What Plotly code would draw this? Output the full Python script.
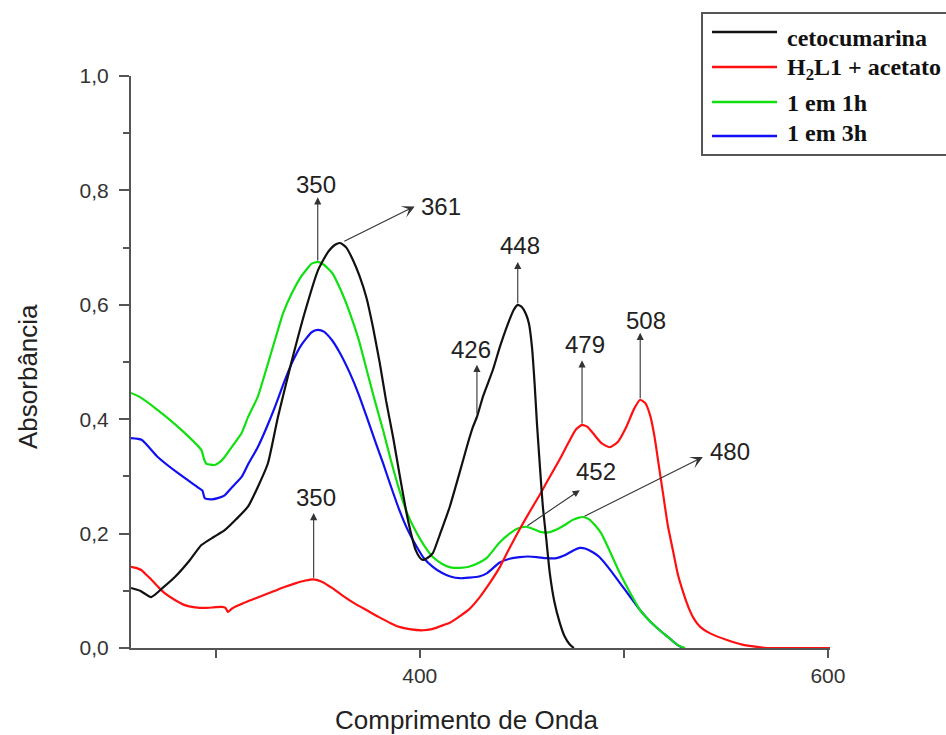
import plotly.graph_objects as go

# Absorption spectra (wavelength in nm, absorbance)
ceto_x = [258.5, 263, 268.4, 274, 280, 287, 293, 299, 304.4, 310, 315.8, 320.7, 325.6, 330.5,
          337, 343.6, 350.2, 355, 358.5, 361, 364, 367.3, 370.5, 373.9, 377, 380.4, 383.5, 386.9,
          390, 393.5, 396, 398, 400, 401.5, 403.5, 406.4, 410, 414.7, 419, 423, 426, 428,
          431, 435.8, 439.2, 443, 446, 448, 450, 452, 453.5, 455, 456.3, 457.4, 459, 460.3, 462,
          463.7, 466, 468.6, 471, 473.5, 475.5]
ceto_y = [0.105, 0.100, 0.089, 0.105, 0.124, 0.152, 0.180, 0.194, 0.206, 0.225, 0.247, 0.282,
          0.323, 0.404, 0.498, 0.586, 0.661, 0.692, 0.705, 0.708, 0.700, 0.678, 0.650, 0.612,
          0.562, 0.498, 0.432, 0.369, 0.305, 0.236, 0.196, 0.171, 0.158, 0.154, 0.157, 0.166,
          0.200, 0.247, 0.300, 0.351, 0.386, 0.404, 0.440, 0.486, 0.526, 0.565, 0.591, 0.600,
          0.596, 0.584, 0.567, 0.525, 0.460, 0.393, 0.310, 0.247, 0.190, 0.131, 0.080, 0.044,
          0.020, 0.006, 0.0]

acet_x = [258.5, 261, 263.7, 266, 268.6, 272, 275, 280, 284.8, 290, 294.6, 299, 303, 304.8,
          306, 308, 314, 319, 324, 329, 334, 339, 344, 348, 352, 357, 362, 368, 374, 380, 386,
          390, 395, 401.5, 406, 410, 414.7, 419, 424, 429.4, 434, 439, 444, 449, 454, 458.8,
          463, 468.6, 473, 476.5, 479.5, 482, 485, 489, 493, 497, 501, 505, 508, 510.5, 513,
          515, 517, 519.4, 521.5, 524.3, 526.5, 529.2, 532, 534.5, 537.4, 542, 550.5, 558,
          565.2, 570, 585, 601]
acet_y = [0.142, 0.140, 0.136, 0.128, 0.119, 0.106, 0.096, 0.084, 0.075, 0.071, 0.070, 0.071,
          0.072, 0.070, 0.063, 0.069, 0.079, 0.086, 0.093, 0.100, 0.107, 0.113, 0.118, 0.120,
          0.116, 0.105, 0.092, 0.078, 0.066, 0.054, 0.043, 0.037, 0.033, 0.031, 0.033, 0.038,
          0.044, 0.054, 0.067, 0.089, 0.112, 0.140, 0.175, 0.208, 0.239, 0.268, 0.295, 0.330,
          0.360, 0.382, 0.390, 0.387, 0.375, 0.358, 0.351, 0.360, 0.385, 0.418, 0.434, 0.428,
          0.405, 0.370, 0.322, 0.265, 0.215, 0.166, 0.128, 0.096, 0.068, 0.050, 0.037, 0.026,
          0.014, 0.006, 0.002, 0.0, 0.0, 0.0]

h1_x = [258.5, 262.7, 271.6, 283.3, 293, 294.3, 295.5, 299.5, 302, 304.4, 308, 312.7, 316,
        320.6, 325, 329, 333, 337.3, 342, 347, 350, 353, 357, 361, 365.7, 370, 374, 378, 382,
        386, 390, 394, 398.5, 402, 406.4, 411, 415, 419.6, 424, 429, 433, 439, 444, 448, 452,
        455, 459, 463, 467, 471, 475, 478, 480, 483, 486, 489, 493, 498, 503, 508, 513, 517.6,
        522, 526, 530]
h1_y = [0.446, 0.439, 0.416, 0.381, 0.346, 0.330, 0.322, 0.320, 0.325, 0.334, 0.352, 0.376,
        0.405, 0.439, 0.490, 0.538, 0.585, 0.620, 0.650, 0.672, 0.675, 0.670, 0.656, 0.628,
        0.586, 0.540, 0.486, 0.432, 0.381, 0.326, 0.276, 0.234, 0.201, 0.180, 0.159, 0.147,
        0.141, 0.140, 0.142, 0.149, 0.158, 0.184, 0.200, 0.209, 0.212, 0.209, 0.203, 0.202,
        0.207, 0.215, 0.224, 0.228, 0.229, 0.225, 0.214, 0.200, 0.170, 0.131, 0.097, 0.066,
        0.046, 0.031, 0.018, 0.006, 0.0]

h3_x = [258.5, 263.7, 271.6, 281.4, 291.2, 293.5, 294.6, 298, 301, 304.4, 308, 312.7, 316,
        320.6, 325, 329, 333, 337.3, 342, 347, 350, 353, 357, 361, 365.7, 370, 374, 378, 382,
        386, 390, 394, 398.5, 402, 406.4, 411, 415, 419.6, 424, 429, 433, 439, 444, 449, 453,
        457.4, 462, 467, 471, 475, 478.4, 481, 485, 488, 493, 498, 503, 508, 513, 517.6, 522,
        526, 529]
h3_y = [0.367, 0.364, 0.334, 0.306, 0.281, 0.275, 0.262, 0.260, 0.262, 0.267, 0.281, 0.299,
        0.322, 0.351, 0.386, 0.421, 0.460, 0.498, 0.530, 0.552, 0.556, 0.553, 0.538, 0.515,
        0.481, 0.444, 0.404, 0.363, 0.323, 0.281, 0.241, 0.207, 0.177, 0.157, 0.142, 0.131,
        0.125, 0.122, 0.123, 0.125, 0.131, 0.149, 0.156, 0.159, 0.160, 0.159, 0.157, 0.157,
        0.162, 0.170, 0.175, 0.174, 0.167, 0.159, 0.138, 0.114, 0.090, 0.066, 0.046, 0.031,
        0.018, 0.006, 0.0]

series_names = ["cetocumarina", "H<sub>2</sub>L1 + acetato", "1 em 1h", "1 em 3h"]
series_colors = ["#111111", "#ff1010", "#10e010", "#1010f0"]

# Peak markers: (label, curve x, curve y, arrow-head x, arrow-head y, label x, label y)
peaks = [
    ("350", 350, 0.675, 350, 0.788, 349, 0.810),
    ("361", 362.3, 0.710, 397.5, 0.772, 410.5, 0.772),
    ("448", 448, 0.600, 448, 0.675, 449, 0.703),
    ("426", 428, 0.407, 428, 0.495, 425, 0.522),
    ("479", 479.5, 0.390, 479.5, 0.503, 481, 0.530),
    ("508", 508, 0.434, 508, 0.551, 511, 0.572),
    ("350", 348, 0.120, 348, 0.236, 349, 0.263),
    ("452", 452, 0.212, 478.4, 0.276, 486.5, 0.308),
    ("480", 480, 0.229, 538.7, 0.334, 552, 0.343),
]
big_heads = {"361", "480"}

fig = go.Figure()

# draw order: blue, green, red, black (black on top)
for xs, ys, idx in [(h3_x, h3_y, 3), (h1_x, h1_y, 2), (acet_x, acet_y, 1), (ceto_x, ceto_y, 0)]:
    fig.add_trace(go.Scatter(
        x=xs, y=ys, mode="lines", name=series_names[idx], showlegend=False,
        line=dict(color=series_colors[idx], width=2.2, shape="spline", smoothing=0.5),
        hoverinfo="skip",
    ))

annotations = []
for label, tx, ty, hx, hy, lx, ly in peaks:
    big = label in big_heads
    annotations.append(dict(
        x=hx, y=hy, ax=tx, ay=ty, xref="x", yref="y", axref="x", ayref="y",
        text="", showarrow=True, arrowhead=2 if not big else 3,
        arrowsize=1.3 if not big else 1.9, arrowwidth=1.1, arrowcolor="#333333",
    ))
    annotations.append(dict(
        x=lx, y=ly, xref="x", yref="y", text=label, showarrow=False,
        xanchor="center", yanchor="middle",
        font=dict(family="Liberation Sans, Arial, sans-serif", size=24, color="#222222"),
    ))

# axis titles
annotations.append(dict(
    x=0.4807, y=-0.126, xref="paper", yref="paper", text="Comprimento de Onda",
    showarrow=False, xanchor="center", yanchor="middle",
    font=dict(family="Liberation Sans, Arial, sans-serif", size=26, color="#222222"),
))
annotations.append(dict(
    x=-0.1474, y=0.4755, xref="paper", yref="paper", text="Absorbância", textangle=-90,
    showarrow=False, xanchor="center", yanchor="middle",
    font=dict(family="Liberation Sans, Arial, sans-serif", size=26, color="#222222"),
))

# legend box
shapes = [dict(type="rect", xref="paper", yref="paper", x0=0.8169, x1=1.19, y0=0.862, y1=1.110,
               line=dict(color="#555555", width=2), fillcolor="white", layer="above")]
legend_rows_y = [1.0769, 1.0157, 0.9545, 0.8951]
legend_text_y = [1.066, 1.013, 0.952, 0.901]
for i in range(4):
    shapes.append(dict(type="line", xref="paper", yref="paper", x0=0.8312, x1=0.9242,
                       y0=legend_rows_y[i], y1=legend_rows_y[i],
                       line=dict(color=series_colors[i], width=2.5), layer="above"))
    annotations.append(dict(
        x=0.9356, y=legend_text_y[i], xref="paper", yref="paper",
        text="<b>" + series_names[i] + "</b>",
        showarrow=False, xanchor="left", yanchor="middle",
        font=dict(family="Liberation Serif, Times New Roman, serif", size=24, color="#111111"),
    ))

axis_font = dict(family="Liberation Sans, Arial, sans-serif", size=21, color="#333333")

fig.update_layout(
    width=946, height=735,
    margin=dict(l=131, r=116, t=76, b=87),
    paper_bgcolor="white", plot_bgcolor="white",
    separators=",.",
    showlegend=False,
    annotations=annotations,
    shapes=shapes,
    xaxis=dict(
        range=[258.5, 601], showgrid=False, zeroline=False,
        showline=True, linecolor="#555555", linewidth=2,
        tickmode="array", tickvals=[300, 400, 500, 600], ticktext=["", "400", "", "600"],
        ticks="outside", ticklen=8, tickwidth=1.5, tickcolor="#555555",
        tickfont=axis_font,
    ),
    yaxis=dict(
        range=[0, 1.0], showgrid=False, zeroline=False,
        showline=True, linecolor="#555555", linewidth=2,
        tickmode="linear", tick0=0, dtick=0.2, tickformat=".1f",
        ticks="outside", ticklen=10, tickwidth=1.5, tickcolor="#555555",
        tickfont=axis_font, ticklabelstandoff=6,
        minor=dict(dtick=0.1, tick0=0, ticks="outside", ticklen=6, tickwidth=1.5,
                   tickcolor="#555555", showgrid=False),
    ),
)

fig.write_html("out.html")
